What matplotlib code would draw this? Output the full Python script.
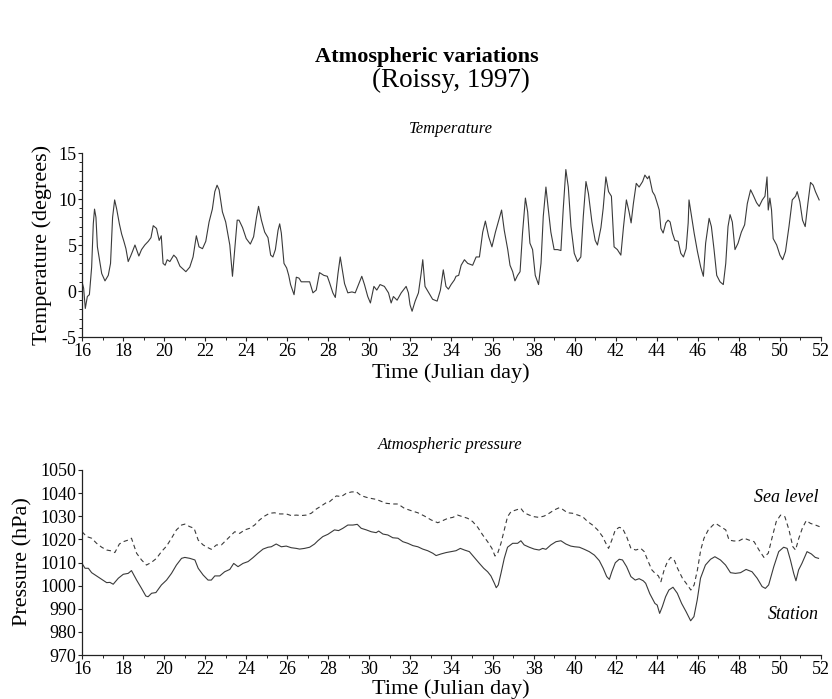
import matplotlib
matplotlib.use("Agg")
import matplotlib.pyplot as plt
from matplotlib.ticker import MultipleLocator

plt.rcParams['font.family'] = ['Liberation Serif', 'DejaVu Serif']
plt.rcParams['axes.unicode_minus'] = False

# ---------------- data ----------------
temp_day = [16.00, 16.08, 16.16, 16.26, 16.36, 16.47, 16.55, 16.61, 16.68, 16.75, 16.88, 16.96,
            17.12, 17.28, 17.39, 17.49, 17.59, 17.69, 17.82, 17.93, 18.04, 18.14, 18.25, 18.37,
            18.46, 18.58, 18.66, 18.77, 18.90, 19.06, 19.23, 19.36, 19.47, 19.63, 19.76, 19.86,
            19.95, 20.05, 20.15, 20.28, 20.47, 20.60, 20.77, 21.06, 21.25, 21.41, 21.57, 21.70,
            21.87, 22.03, 22.19, 22.35, 22.47, 22.58, 22.68, 22.84, 23.00, 23.20, 23.33, 23.44,
            23.56, 23.65, 23.82, 24.00, 24.20, 24.36, 24.50, 24.60, 24.74, 24.90, 25.06, 25.19,
            25.30, 25.42, 25.55, 25.63, 25.71, 25.84, 25.97, 26.07, 26.16, 26.33, 26.44, 26.57,
            26.68, 26.93, 27.09, 27.25, 27.41, 27.57, 27.78, 27.95, 28.06, 28.22, 28.34, 28.47,
            28.58, 28.66, 28.79, 28.95, 29.15, 29.31, 29.47, 29.63, 29.76, 29.92, 30.05, 30.22,
            30.36, 30.52, 30.73, 30.93, 31.06, 31.17, 31.35, 31.55, 31.79, 31.90, 31.98, 32.08,
            32.23, 32.39, 32.52, 32.60, 32.71, 32.87, 33.08, 33.30, 33.46, 33.60, 33.73, 33.85,
            33.98, 34.14, 34.22, 34.35, 34.47, 34.63, 34.79, 35.03, 35.20, 35.36, 35.52, 35.65,
            35.81, 35.97, 36.14, 36.33, 36.44, 36.57, 36.74, 36.85, 36.98, 37.09, 37.22, 37.34,
            37.46, 37.60, 37.71, 37.82, 37.95, 38.08, 38.24, 38.36, 38.47, 38.60, 38.71, 38.84,
            39.00, 39.17, 39.33, 39.44, 39.57, 39.69, 39.82, 39.98, 40.14, 40.30, 40.42, 40.55,
            40.67, 40.84, 41.00, 41.11, 41.28, 41.39, 41.52, 41.65, 41.79, 41.92, 42.08, 42.25,
            42.38, 42.52, 42.65, 42.75, 42.86, 43.00, 43.14, 43.31, 43.42, 43.55, 43.63, 43.79,
            43.90, 44.00, 44.12, 44.20, 44.31, 44.44, 44.55, 44.65, 44.76, 44.88, 45.04, 45.17,
            45.30, 45.43, 45.53, 45.57, 45.66, 45.82, 45.98, 46.14, 46.27, 46.38, 46.55, 46.66,
            46.79, 46.92, 47.08, 47.24, 47.36, 47.47, 47.57, 47.68, 47.81, 47.96, 48.12, 48.28,
            48.41, 48.57, 48.70, 48.86, 48.99, 49.14, 49.27, 49.37, 49.43, 49.51, 49.59, 49.67,
            49.84, 50.00, 50.13, 50.27, 50.44, 50.60, 50.76, 50.84, 50.97, 51.10, 51.23, 51.36,
            51.49, 51.62, 51.73, 51.91]
temp_val = [1.0, 0.3, -1.9, -0.6, -0.4, 2.6, 7.3, 8.9, 8.0, 4.8, 3.0, 1.9,
            1.1, 1.7, 3.0, 8.0, 9.9, 8.9, 7.3, 6.2, 5.4, 4.6, 3.2, 3.8,
            4.3, 5.0, 4.5, 3.8, 4.5, 5.0, 5.4, 5.8, 7.1, 6.8, 5.5, 6.0,
            3.0, 2.8, 3.4, 3.2, 3.9, 3.6, 2.7, 2.1, 2.6, 3.7, 6.0, 4.8,
            4.6, 5.4, 7.5, 8.9, 10.8, 11.5, 11.0, 8.6, 7.5, 5.0, 1.6, 4.5,
            7.7, 7.7, 6.9, 5.7, 5.1, 5.9, 8.0, 9.2, 7.7, 6.4, 5.8, 3.9,
            3.7, 4.5, 6.6, 7.3, 6.3, 3.0, 2.5, 1.7, 0.7, -0.4, 1.5, 1.4,
            1.0, 1.0, 1.0, -0.2, 0.1, 2.0, 1.7, 1.6, 0.9, -0.2, -0.7, 1.9,
            3.7, 2.6, 0.8, -0.2, -0.1, -0.2, 0.7, 1.6, 0.7, -0.6, -1.3, 0.5,
            0.1, 0.7, 0.5, -0.2, -1.3, -0.6, -1.0, -0.2, 0.5, -0.2, -1.5, -2.2,
            -1.1, -0.2, 1.9, 3.4, 0.5, -0.1, -0.9, -1.1, 0.1, 2.3, 0.5, 0.2,
            0.7, 1.2, 1.6, 1.7, 2.8, 3.4, 3.0, 2.8, 3.7, 3.7, 6.4, 7.6,
            5.9, 4.8, 6.4, 7.9, 8.8, 6.6, 4.5, 2.8, 2.1, 1.1, 1.7, 2.1,
            6.3, 10.1, 8.6, 5.2, 4.5, 1.7, 0.7, 3.0, 8.1, 11.3, 9.0, 6.4,
            4.5, 4.5, 4.4, 8.8, 13.2, 11.3, 7.0, 4.1, 3.2, 3.7, 8.1, 11.9,
            10.6, 7.5, 5.5, 5.0, 6.9, 9.0, 12.4, 10.8, 10.3, 4.8, 4.5, 3.9,
            7.0, 9.9, 8.6, 7.4, 9.5, 11.7, 11.3, 11.9, 12.6, 12.2, 12.5, 10.8,
            10.4, 9.7, 8.8, 6.8, 6.3, 7.4, 7.7, 7.5, 6.3, 5.5, 5.4, 4.1,
            3.7, 4.6, 7.4, 9.9, 8.6, 6.3, 4.3, 2.6, 1.6, 5.2, 7.9, 7.0,
            4.5, 1.7, 1.0, 0.7, 3.0, 7.0, 8.3, 7.5, 4.5, 5.2, 6.4, 7.2,
            9.5, 11.0, 10.4, 9.6, 9.2, 9.9, 10.3, 12.4, 8.8, 10.1, 8.8, 5.7,
            5.0, 3.9, 3.4, 4.3, 7.0, 9.9, 10.3, 10.8, 9.7, 7.7, 7.0, 9.5,
            11.8, 11.5, 10.8, 9.9]

sea_day = [16.00, 16.23, 16.47, 16.71, 16.96, 17.20, 17.44, 17.60, 17.82, 18.01, 18.25, 18.41,
           18.66, 18.90, 19.14, 19.39, 19.63, 19.87, 20.12, 20.36, 20.60, 20.85, 21.01, 21.25,
           21.46, 21.66, 21.90, 22.14, 22.30, 22.55, 22.79, 23.03, 23.28, 23.44, 23.68, 23.93,
           24.17, 24.41, 24.65, 24.90, 25.14, 25.38, 25.63, 25.95, 26.19, 26.44, 26.68, 26.92,
           27.17, 27.41, 27.65, 27.90, 28.06, 28.39, 28.63, 28.87, 29.12, 29.36, 29.60, 29.85,
           30.09, 30.33, 30.50, 30.82, 31.14, 31.39, 31.71, 32.04, 32.36, 32.68, 33.01, 33.33,
           33.57, 33.82, 34.06, 34.30, 34.55, 34.79, 35.03, 35.28, 35.52, 35.76, 35.97, 36.12,
           36.25, 36.41, 36.57, 36.73, 36.90, 37.14, 37.38, 37.54, 37.79, 38.03, 38.27, 38.52,
           38.76, 39.00, 39.25, 39.41, 39.65, 39.89, 40.06, 40.39, 40.63, 40.87, 41.12, 41.36,
           41.52, 41.65, 41.81, 41.98, 42.17, 42.33, 42.53, 42.74, 42.98, 43.22, 43.39, 43.55,
           43.76, 43.92, 44.08, 44.20, 44.36, 44.52, 44.68, 44.85, 45.01, 45.25, 45.49, 45.66,
           45.82, 45.98, 46.14, 46.30, 46.51, 46.74, 46.87, 47.11, 47.36, 47.52, 47.76, 48.01,
           48.25, 48.49, 48.74, 48.98, 49.22, 49.43, 49.63, 49.82, 50.03, 50.24, 50.44, 50.63,
           50.76, 50.92, 51.09, 51.28, 51.49, 51.73, 51.93]
sea_val = [1023.3, 1021.2, 1020.5, 1018.3, 1016.6, 1015.4, 1015.0, 1014.3, 1018.0, 1019.0, 1019.7, 1020.5,
           1014.0, 1011.1, 1008.9, 1010.1, 1011.8, 1014.7, 1017.1, 1020.5, 1024.1, 1026.2, 1026.6, 1025.5,
           1024.8, 1019.7, 1017.6, 1016.4, 1015.7, 1017.6, 1017.6, 1019.7, 1021.9, 1023.3, 1022.6, 1024.1,
           1024.8, 1026.2, 1028.4, 1030.1, 1031.3, 1031.5, 1031.0, 1031.0, 1030.3, 1030.5, 1030.3, 1030.5,
           1031.3, 1033.1, 1034.4, 1035.9, 1036.3, 1038.8, 1038.5, 1039.9, 1040.5, 1040.6, 1038.9, 1038.2,
           1037.7, 1037.3, 1036.7, 1035.6, 1035.3, 1035.3, 1033.4, 1032.4, 1031.5, 1030.1, 1028.4, 1027.2,
           1028.1, 1029.1, 1029.5, 1030.5, 1029.8, 1029.1, 1027.7, 1025.2, 1021.9, 1019.0, 1016.1, 1012.8,
           1014.0, 1018.3, 1024.1, 1029.8, 1032.0, 1032.7, 1033.4, 1031.5, 1030.5, 1029.8, 1029.5, 1030.1,
           1031.3, 1032.7, 1033.7, 1033.0, 1031.5, 1031.3, 1030.8, 1029.8, 1027.7, 1026.2, 1024.1, 1021.2,
           1018.3, 1016.1, 1019.7, 1024.1, 1025.2, 1024.8, 1021.2, 1016.1, 1015.4, 1016.1, 1014.7, 1011.1,
           1006.8, 1005.3, 1004.2, 1001.7, 1006.8, 1010.4, 1012.2, 1011.1, 1007.5, 1003.2, 1000.3, 998.1,
           1000.3, 1006.8, 1015.4, 1020.5, 1024.1, 1026.2, 1026.9, 1025.5, 1024.1, 1019.7, 1019.3, 1019.4,
           1020.5, 1019.7, 1019.0, 1015.4, 1012.2, 1014.0, 1021.2, 1027.7, 1030.5, 1029.8, 1024.1, 1016.8,
           1015.4, 1020.5, 1024.8, 1028.1, 1026.9, 1026.2, 1025.5]

station_day = [16.00, 16.15, 16.31, 16.47, 16.71, 16.96, 17.20, 17.36, 17.52, 17.77, 18.01, 18.25,
               18.41, 18.66, 18.90, 19.11, 19.22, 19.39, 19.60, 19.87, 20.12, 20.36, 20.60, 20.85,
               21.01, 21.25, 21.50, 21.66, 21.90, 22.14, 22.30, 22.47, 22.71, 22.95, 23.20, 23.39,
               23.60, 23.84, 24.09, 24.33, 24.57, 24.82, 25.06, 25.22, 25.46, 25.71, 25.95, 26.19,
               26.44, 26.60, 26.84, 27.09, 27.33, 27.49, 27.73, 27.98, 28.30, 28.50, 28.71, 28.95,
               29.20, 29.41, 29.60, 29.85, 30.09, 30.33, 30.45, 30.66, 30.90, 31.14, 31.39, 31.63,
               31.87, 32.12, 32.36, 32.60, 32.84, 33.09, 33.25, 33.49, 33.74, 33.98, 34.22, 34.43,
               34.63, 34.87, 35.11, 35.36, 35.57, 35.76, 35.92, 36.09, 36.18, 36.28, 36.41, 36.57,
               36.73, 36.98, 37.22, 37.38, 37.54, 37.79, 38.03, 38.27, 38.44, 38.60, 38.84, 39.09,
               39.33, 39.57, 39.81, 40.00, 40.23, 40.47, 40.71, 40.96, 41.20, 41.39, 41.56, 41.69,
               41.81, 41.98, 42.17, 42.33, 42.53, 42.74, 42.95, 43.14, 43.34, 43.46, 43.66, 43.91,
               44.02, 44.14, 44.27, 44.43, 44.59, 44.79, 45.00, 45.21, 45.43, 45.65, 45.81, 45.97,
               46.13, 46.37, 46.62, 46.83, 47.10, 47.35, 47.59, 47.83, 48.08, 48.35, 48.64, 48.89,
               49.13, 49.29, 49.45, 49.70, 49.94, 50.18, 50.35, 50.51, 50.67, 50.78, 50.91, 51.07,
               51.32, 51.53, 51.72, 51.88]
station_val = [1009.6, 1007.5, 1007.5, 1005.6, 1004.2, 1002.7, 1001.3, 1001.4, 1000.6, 1003.2, 1004.9, 1005.3,
               1006.5, 1002.4, 998.8, 995.5, 995.2, 996.7, 997.0, 1000.3, 1002.4, 1005.3, 1008.9, 1011.8,
               1012.2, 1011.8, 1011.1, 1007.5, 1004.6, 1002.4, 1002.4, 1004.2, 1004.2, 1006.0, 1007.0, 1009.6,
               1008.2, 1009.6, 1010.4, 1012.1, 1014.0, 1015.8, 1016.6, 1016.8, 1018.0, 1016.8, 1017.1, 1016.4,
               1016.1, 1015.8, 1016.1, 1016.6, 1018.0, 1019.4, 1021.2, 1022.2, 1024.1, 1023.8, 1024.8, 1026.2,
               1026.2, 1026.5, 1024.8, 1024.1, 1023.3, 1022.9, 1023.6, 1022.3, 1021.9, 1020.7, 1020.5, 1019.0,
               1018.3, 1017.3, 1016.8, 1015.8, 1015.1, 1014.0, 1013.0, 1013.7, 1014.3, 1014.7, 1015.1, 1016.1,
               1015.4, 1014.7, 1012.2, 1009.6, 1007.5, 1006.0, 1004.2, 1001.0, 999.1, 1000.3, 1005.3, 1011.8,
               1016.6, 1018.3, 1018.3, 1019.4, 1017.6, 1016.6, 1015.8, 1015.4, 1016.1, 1015.7, 1017.6, 1019.0,
               1019.4, 1018.0, 1017.1, 1016.8, 1016.6, 1015.7, 1014.7, 1013.2, 1010.8, 1007.5, 1003.9, 1002.7,
               1006.0, 1009.9, 1011.4, 1011.1, 1008.2, 1003.9, 1002.4, 1003.0, 1002.1, 1001.0, 996.5, 992.3,
               991.6, 988.0, 990.9, 995.2, 998.1, 999.3, 996.7, 992.3, 988.7, 984.8, 986.6, 993.8,
               1003.2, 1008.9, 1011.4, 1012.5, 1011.1, 1008.9, 1005.6, 1005.3, 1005.6, 1007.0, 1006.0, 1003.2,
               999.6, 998.8, 1000.3, 1008.2, 1014.7, 1016.6, 1016.1, 1011.1, 1005.3, 1002.1, 1006.8, 1009.6,
               1014.7, 1013.7, 1012.2, 1011.8]

x_ticks = list(range(16, 53, 2))
temp_ticks = [-5, 0, 5, 10, 15]
pres_ticks = [970, 980, 990, 1000, 1010, 1020, 1030, 1040, 1050]

# ---------------- figure ----------------
W, H = 832, 699
fig = plt.figure(figsize=(W / 100, H / 100), dpi=100)

def fx(px):
    return px / W

def fy(py):
    return 1 - py / H

line_color = '#3a3a3a'
tick_fs = 13
lab_fs = 16

def style_axes(ax):
    for s in ('top', 'right'):
        ax.spines[s].set_visible(False)
    for s in ('left', 'bottom'):
        ax.spines[s].set_linewidth(0.9)
        ax.spines[s].set_color('#222222')
    ax.tick_params(which='major', direction='out', length=3, width=0.8,
                   labelsize=tick_fs, pad=1, color='#222222')
    ax.tick_params(which='minor', direction='out', length=2, width=0.7, color='#222222')
    ax.set_xlim(16, 52)
    ax.set_xticks(x_ticks)
    ax.xaxis.set_minor_locator(MultipleLocator(1))

# top axes: temperature
ax1 = fig.add_axes([fx(82), fy(337), fx(821) - fx(82), fy(153) - fy(337)])
ax1.plot(temp_day, temp_val, color=line_color, lw=0.8)
style_axes(ax1)
ax1.set_ylim(-5, 15)
ax1.set_yticks(temp_ticks)
ax1.yaxis.set_minor_locator(MultipleLocator(1))

# bottom axes: pressure
ax2 = fig.add_axes([fx(82), fy(655), fx(821) - fx(82), fy(470) - fy(655)])
ax2.plot(sea_day, sea_val, color=line_color, lw=0.8, ls=(0, (4, 3)))
ax2.plot(station_day, station_val, color=line_color, lw=0.8)
style_axes(ax2)
ax2.set_ylim(970, 1050)
ax2.set_yticks(pres_ticks)

ax2.text(51.9, 1037.9, 'Sea level', style='italic', fontsize=13, ha='right', va='center')
ax2.text(51.9, 987.7, 'Station', style='italic', fontsize=13, ha='right', va='center')

# texts
fig.text(fx(427), fy(57), 'Atmospheric variations', fontsize=16, fontweight='bold',
         ha='center', va='center')
fig.text(0.5415, fy(80), '(Roissy, 1997)', fontsize=19.5, ha='center', va='center')
fig.text(0.5415, fy(129), 'Temperature', fontsize=12, style='italic', ha='center', va='center')
fig.text(0.5415, fy(445), 'Atmospheric pressure', fontsize=12, style='italic',
         ha='center', va='center')
fig.text(0.5415, fy(373), 'Time (Julian day)', fontsize=lab_fs, ha='center', va='center')
fig.text(0.5415, fy(689), 'Time (Julian day)', fontsize=lab_fs, ha='center', va='center')
fig.text(fx(42), fy(245), 'Temperature (degrees)', fontsize=lab_fs, rotation=90,
         ha='center', va='center')
fig.text(fx(23), fy(562), 'Pressure (hPa)', fontsize=lab_fs, rotation=90,
         ha='center', va='center')

fig.savefig('out.png', dpi=100, facecolor='white')
